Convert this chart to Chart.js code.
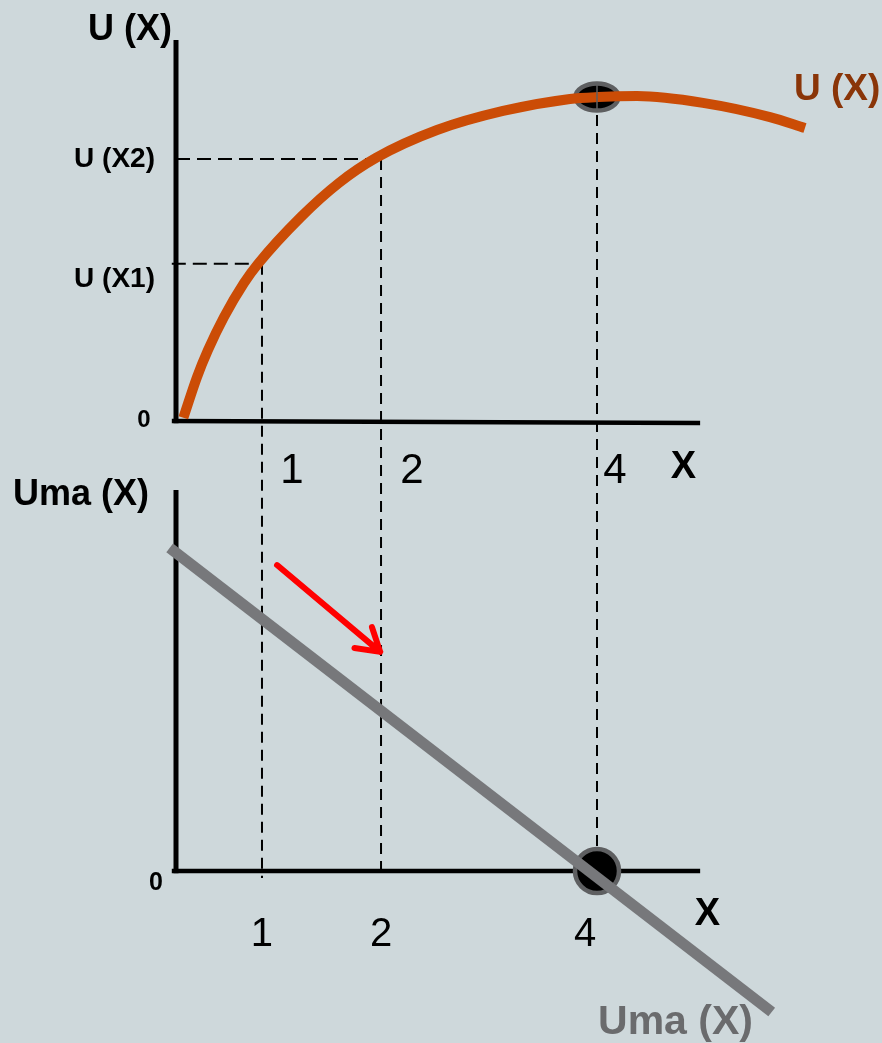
<!DOCTYPE html>
<html>
<head>
<meta charset="utf-8">
<script src="https://cdn.jsdelivr.net/npm/chart.js@4"></script>
<style>
  html, body { margin: 0; padding: 0; background: #ced8db; }
  canvas { display: block; }
</style>
</head>
<body>
<canvas id="chart" width="882" height="1043"></canvas>
<script>
// Total utility curve U(X)
const uX = [0.07, 0.2, 0.304, 0.456, 0.646, 0.779, 1.188, 1.549, 1.9, 2.48, 3.107, 3.743, 4.01, 4.38, 5.007, 5.644, 5.976];
const uY = [0.1, 1.36, 2.19, 3.21, 4.26, 4.85, 6.3, 7.35, 8.12, 8.98, 9.57, 9.94, 10.0, 10.03, 9.82, 9.38, 9.04];

// Marginal utility line Uma(X)
const umaX = [-0.06, 5.66];
const umaY = [10.13, -4.42];

// Quantities marked on the x axis and the utilities they give
const markX = [0.817, 1.948, 4];
const markXLabels = ["1", "2", "4"];
const markU = [4.85, 8.09];
const markULabels = ["U (X1)", "U (X2)"];

const uMax = { x: 4, y: 10 };
const umaZero = { x: 4, y: 0 };

const FONT = "'Liberation Sans', Arial, sans-serif";

// ellipse marker for the top of U(X)
const ellipse = document.createElement("canvas");
ellipse.width = 50;
ellipse.height = 34;
(function () {
  const c = ellipse.getContext("2d");
  c.beginPath();
  c.ellipse(25, 17, 21.5, 13.5, 0, 0, Math.PI * 2);
  c.fillStyle = "#000";
  c.fill();
  c.lineWidth = 4.5;
  c.strokeStyle = "#5e5f61";
  c.stroke();
})();

function text(ctx, str, x, y, size, bold, color, align) {
  ctx.font = (bold ? "bold " : "") + size + "px " + FONT;
  ctx.fillStyle = color;
  ctx.textAlign = align || "center";
  ctx.textBaseline = "alphabetic";
  ctx.fillText(str, x, y);
}

function line(ctx, x1, y1, x2, y2, width, color, dash) {
  ctx.save();
  ctx.beginPath();
  ctx.setLineDash(dash || []);
  ctx.lineWidth = width;
  ctx.strokeStyle = color;
  ctx.moveTo(x1, y1);
  ctx.lineTo(x2, y2);
  ctx.stroke();
  ctx.restore();
}

const diagramPlugin = {
  id: "diagram",
  beforeDraw(chart) {
    const ctx = chart.ctx;
    ctx.save();
    ctx.fillStyle = "#ced8db";
    ctx.fillRect(0, 0, chart.width, chart.height);
    ctx.restore();
  },
  beforeDatasetsDraw(chart) {
    const ctx = chart.ctx;
    const sx = chart.scales.x;
    const su = chart.scales.yU;
    const sm = chart.scales.yM;
    const x0 = sx.getPixelForValue(0);
    const xEnd = sx.getPixelForValue(4.98);
    const xStart = sx.getPixelForValue(-0.04);

    // axes
    line(ctx, x0, su.getPixelForValue(11.76), x0, su.getPixelForValue(-0.07), 5, "#000");
    line(ctx, xStart, su.getPixelForValue(0), xEnd, su.getPixelForValue(-0.06), 4.5, "#000");
    line(ctx, x0, sm.getPixelForValue(11.94), x0, sm.getPixelForValue(-0.07), 5, "#000");
    line(ctx, xStart, sm.getPixelForValue(0), xEnd, sm.getPixelForValue(0), 4.5, "#000");

    // guides
    markU.forEach((u, i) => {
      const y = su.getPixelForValue(u);
      line(ctx, i === 0 ? xStart : x0, y, sx.getPixelForValue(markX[i]), y, 2, "#000", [14, 7]);
    });
    markX.forEach((m, i) => {
      const x = sx.getPixelForValue(m);
      const top = i < markU.length ? su.getPixelForValue(markU[i]) : su.getPixelForValue(uMax.y);
      const bottom = i < markU.length ? sm.getPixelForValue(-0.22) : sm.getPixelForValue(0);
      line(ctx, x, top, x, bottom, 2, "#000", [11, 7]);
    });
  },
  afterDatasetsDraw(chart) {
    const ctx = chart.ctx;
    const sx = chart.scales.x;
    const su = chart.scales.yU;
    const sm = chart.scales.yM;
    const x0 = sx.getPixelForValue(0);
    const yu0 = su.getPixelForValue(0);
    const ym0 = sm.getPixelForValue(0);

    // dashed line runs across the top marker in the original
    const x4 = sx.getPixelForValue(uMax.x);
    line(ctx, x4, su.getPixelForValue(uMax.y + 0.4), x4, su.getPixelForValue(uMax.y - 0.45), 1.5, "#5e5f61");

    // top panel texts
    text(ctx, "U (X)", x0 - 46, su.getPixelForValue(11.76), 36, true, "#000");
    markU.forEach((u, i) => {
      const dy = i === 0 ? 23 : 8;
      text(ctx, markULabels[i], x0 - 21, su.getPixelForValue(u) + dy, 28, true, "#000", "right");
    });
    text(ctx, "0", x0 - 32, yu0 + 6, 24, true, "#000");
    const topDx = [30, 31, 18];
    markX.forEach((m, i) => {
      text(ctx, markXLabels[i], sx.getPixelForValue(m) + topDx[i], yu0 + 62, 42, false, "#000");
    });
    text(ctx, "X", sx.getPixelForValue(4.82), yu0 + 57, 38, true, "#000");
    const last = uX.length - 1;
    text(ctx, "U (X)", sx.getPixelForValue(uX[last]) - 11, su.getPixelForValue(uY[last]) - 28, 37, true, "#8a3508", "left");

    // bottom panel texts
    text(ctx, "Uma (X)", 13, sm.getPixelForValue(11.94) + 15, 36, true, "#000", "left");
    text(ctx, "0", x0 - 20, ym0 + 19, 25, true, "#000");
    const botDx = [0, 0, -12];
    markX.forEach((m, i) => {
      text(ctx, markXLabels[i], sx.getPixelForValue(m) + botDx[i], ym0 + 75, 40, false, "#000");
    });
    text(ctx, "X", sx.getPixelForValue(5.05), ym0 + 54, 38, true, "#000");
    text(ctx, "Uma (X)", sx.getPixelForValue(4.01), ym0 + 163, 41, true, "#6a6b6d", "left");

    // red arrow: utility gain falls as X grows
    const tx = sx.getPixelForValue(0.96), ty = sm.getPixelForValue(9.59);
    const hx = sx.getPixelForValue(1.94), hy = sm.getPixelForValue(6.87);
    const ang = Math.atan2(hy - ty, hx - tx);
    ctx.save();
    ctx.strokeStyle = "#ff0000";
    ctx.lineWidth = 6;
    ctx.lineCap = "round";
    ctx.lineJoin = "round";
    ctx.beginPath();
    ctx.moveTo(tx, ty);
    ctx.lineTo(hx, hy);
    ctx.moveTo(hx + 26 * Math.cos(ang + Math.PI - 0.55), hy + 26 * Math.sin(ang + Math.PI - 0.55));
    ctx.lineTo(hx, hy);
    ctx.lineTo(hx + 26 * Math.cos(ang + Math.PI + 0.55), hy + 26 * Math.sin(ang + Math.PI + 0.55));
    ctx.stroke();
    ctx.restore();
  },
};

const H = 1043;
const zeroU = 421, pxU = 32.4;
const zeroM = 871, pxM = 31.9;

new Chart(document.getElementById("chart"), {
  type: "scatter",
  data: {
    datasets: [
      {
        label: "Uma (X)",
        data: umaX.map((x, i) => ({ x: x, y: umaY[i] })),
        yAxisID: "yM",
        showLine: true,
        borderColor: "#77787b",
        borderWidth: 11,
        pointRadius: 0,
        clip: false,
      },
      {
        label: "U (X)",
        data: uX.map((x, i) => ({ x: x, y: uY[i] })),
        yAxisID: "yU",
        showLine: true,
        borderColor: "#cb4c06",
        borderWidth: 10,
        cubicInterpolationMode: "monotone",
        pointRadius: 0,
        clip: false,
      },
      {
        label: "max U",
        data: [uMax],
        yAxisID: "yU",
        pointStyle: ellipse,
        pointRadius: 17,
        clip: false,
      },
      {
        label: "Uma = 0",
        data: [umaZero],
        yAxisID: "yM",
        pointStyle: "circle",
        pointRadius: 22,
        pointBackgroundColor: "#000",
        pointBorderColor: "#5e5f61",
        pointBorderWidth: 4.5,
        clip: false,
      },
    ],
  },
  options: {
    responsive: false,
    animation: false,
    devicePixelRatio: 1,
    layout: { autoPadding: false, padding: { left: 176, right: 74.5, top: 0, bottom: 0 } },
    plugins: {
      legend: { display: false },
      tooltip: { enabled: false },
    },
    scales: {
      x: { type: "linear", min: 0, max: 6, display: false },
      yU: { type: "linear", min: -(H - zeroU) / pxU, max: zeroU / pxU, display: false },
      yM: { type: "linear", min: -(H - zeroM) / pxM, max: zeroM / pxM, display: false },
    },
  },
  plugins: [diagramPlugin],
});
</script>
</body>
</html>
